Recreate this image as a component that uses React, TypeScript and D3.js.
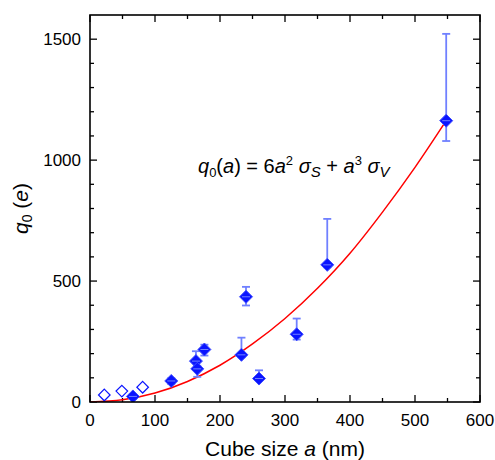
import React from 'react';
import * as d3 from 'd3';

// measured charge vs cube size (filled), small cubes (open)
const cubeSize = [66, 125, 163, 165, 176, 233, 240, 260, 318, 365, 548];
const charge = [23, 87, 169, 137, 217, 195, 435, 97, 280, 567, 1163];
const errLow = [12, 75, 160, 104, 192, 185, 399, 88, 258, 557, 1079];
const errHigh = [33, 98, 210, 150, 237, 266, 476, 131, 345, 757, 1522];

const smallSize = [22, 49, 81];
const smallCharge = [29, 45, 61];

// fitted curve q0(a) = 6a^2 sS + a^3 sV
const fitA = [0, 50, 100, 150, 200, 250, 300, 350, 400, 450, 500, 548];
const fitQ = [0, 9, 37, 85, 152, 240, 345, 470, 615, 785, 970, 1163];

const xTicks = [0, 100, 200, 300, 400, 500, 600];
const yTicks = [0, 500, 1000, 1500];

const W = 495;
const H = 460;
const m = { left: 90, right: 15, top: 15, bottom: 58 };

export default function App() {
  const x = d3.scaleLinear().domain([0, 600]).range([m.left, W - m.right]);
  const y = d3.scaleLinear().domain([0, 1600]).range([H - m.bottom, m.top]);
  const x0 = x(0), x1 = x(600), y0 = y(0), y1 = y(1600);

  const xMinor = d3.range(50, 600, 100);
  const yMinor = d3.range(100, 1600, 100).filter(v => v % 500 !== 0);

  const line = d3.line<number>()
    .x((_, i) => x(fitA[i]))
    .y(d => y(d))
    .curve(d3.curveMonotoneX);

  const diamond = (cx: number, cy: number, r: number) =>
    `M${cx},${cy - r}L${cx + r},${cy}L${cx},${cy + r}L${cx - r},${cy}Z`;

  const font = 'Liberation Sans, Arial, sans-serif';
  const ticksStroke = { stroke: '#000', strokeWidth: 1.3 };

  return (
    <svg width={W} height={H} style={{ position: 'absolute', left: 0, top: 0, fontFamily: font }}>
      <rect width={W} height={H} fill="#fff" />
      <defs>
        <clipPath id="plot">
          <rect x={x0} y={y1} width={x1 - x0} height={y0 - y1} />
        </clipPath>
      </defs>

      {/* ticks, pointing inward on all four sides */}
      {xTicks.map(t => (
        <g key={'xt' + t}>
          <line x1={x(t)} x2={x(t)} y1={y0} y2={y0 - 7} {...ticksStroke} />
          <line x1={x(t)} x2={x(t)} y1={y1} y2={y1 + 7} {...ticksStroke} />
          <text x={x(t)} y={y0 + 24} textAnchor="middle" fontSize={17}>{t}</text>
        </g>
      ))}
      {xMinor.map(t => (
        <g key={'xm' + t}>
          <line x1={x(t)} x2={x(t)} y1={y0} y2={y0 - 4} {...ticksStroke} />
          <line x1={x(t)} x2={x(t)} y1={y1} y2={y1 + 4} {...ticksStroke} />
        </g>
      ))}
      {yTicks.map(t => (
        <g key={'yt' + t}>
          <line x1={x0} x2={x0 + 7} y1={y(t)} y2={y(t)} {...ticksStroke} />
          <line x1={x1} x2={x1 - 7} y1={y(t)} y2={y(t)} {...ticksStroke} />
          <text x={x0 - 9} y={y(t)} dy="0.35em" textAnchor="end" fontSize={17}>{t}</text>
        </g>
      ))}
      {yMinor.map(t => (
        <g key={'ym' + t}>
          <line x1={x0} x2={x0 + 4} y1={y(t)} y2={y(t)} {...ticksStroke} />
          <line x1={x1} x2={x1 - 4} y1={y(t)} y2={y(t)} {...ticksStroke} />
        </g>
      ))}

      <g clipPath="url(#plot)">
        <path d={line(fitQ) || ''} fill="none" stroke="#ff0000" strokeWidth={1.5} />

        {cubeSize.map((a, i) => (
          <g key={'e' + i} stroke="#7080ff" strokeWidth={1.8}>
            <line x1={x(a)} x2={x(a)} y1={y(errLow[i])} y2={y(errHigh[i])} />
            <line x1={x(a) - 4} x2={x(a) + 4} y1={y(errLow[i])} y2={y(errLow[i])} />
            <line x1={x(a) - 4} x2={x(a) + 4} y1={y(errHigh[i])} y2={y(errHigh[i])} />
          </g>
        ))}

        {cubeSize.map((a, i) => (
          <path key={'p' + i} d={diamond(x(a), y(charge[i]), 6.5)} fill="#0a14ff" stroke="#3f4dff" strokeWidth={1} />
        ))}
        {cubeSize.map((a, i) => (
          <line key={'pc' + i} x1={x(a) - 4} x2={x(a) + 4} y1={y(charge[i])} y2={y(charge[i])} stroke="#7080ff" strokeWidth={1} />
        ))}

        {smallSize.map((a, i) => (
          <path key={'o' + i} d={diamond(x(a), y(smallCharge[i]), 5.8)} fill="none" stroke="#0a14ff" strokeWidth={1.2} />
        ))}
      </g>

      <rect x={x0} y={y1} width={x1 - x0} height={y0 - y1} fill="none" stroke="#000" strokeWidth={1.6} />

      <text x={(x0 + x1) / 2} y={456} textAnchor="middle" fontSize={21}>
        Cube size <tspan fontStyle="italic">a</tspan> (nm)
      </text>
      <text transform={`translate(28,${(y0 + y1) / 2}) rotate(-90)`} textAnchor="middle" fontSize={21}>
        <tspan fontStyle="italic">q</tspan>
        <tspan fontSize={14} dy={4}>0</tspan>
        <tspan dy={-4}> (</tspan>
        <tspan fontStyle="italic">e</tspan>)
      </text>

      <text x={198} y={173} fontSize={20}>
        <tspan fontStyle="italic">q</tspan>
        <tspan fontSize={13} dy={4}>0</tspan>
        <tspan dy={-4}>(</tspan>
        <tspan fontStyle="italic">a</tspan>) = 6<tspan fontStyle="italic">a</tspan>
        <tspan fontSize={13} dy={-8}>2</tspan>
        <tspan dy={8}> </tspan>
        <tspan fontStyle="italic">σ</tspan>
        <tspan fontStyle="italic" fontSize={15} dy={4}>S</tspan>
        <tspan dy={-4}> + </tspan>
        <tspan fontStyle="italic">a</tspan>
        <tspan fontSize={13} dy={-8}>3</tspan>
        <tspan dy={8}> </tspan>
        <tspan fontStyle="italic">σ</tspan>
        <tspan fontStyle="italic" fontSize={15} dy={4}>V</tspan>
      </text>
    </svg>
  );
}
